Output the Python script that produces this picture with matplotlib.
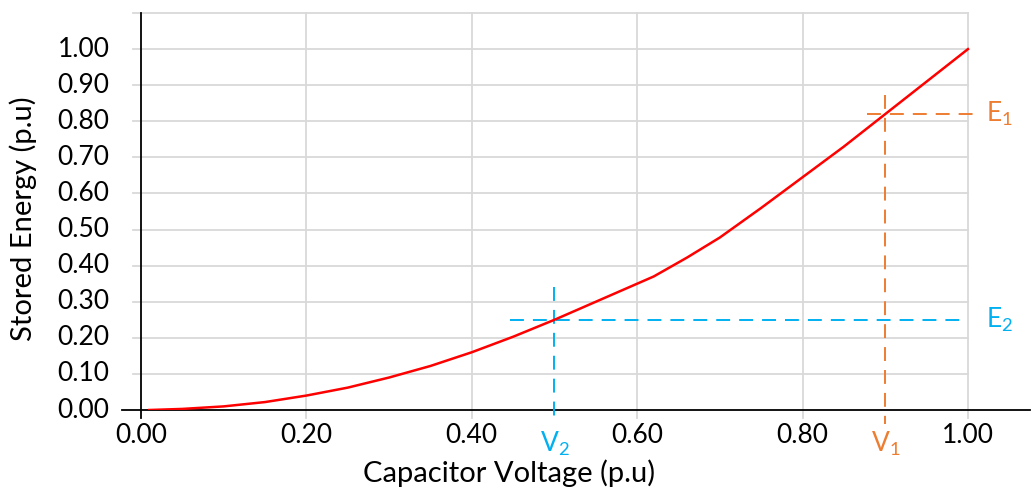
import matplotlib
matplotlib.use("Agg")
import matplotlib.pyplot as plt

plt.rcParams['font.family'] = ['Lato', 'DejaVu Sans']
plt.rcParams['mathtext.fontset'] = 'custom'
plt.rcParams['mathtext.rm'] = 'Lato'
plt.rcParams['mathtext.it'] = 'Lato'
plt.rcParams['lines.scale_dashes'] = False

# Data
voltage = [0.01, 0.05, 0.10, 0.15, 0.20, 0.25, 0.30, 0.35, 0.40, 0.45, 0.50,
           0.55, 0.60, 0.62, 0.66, 0.70, 0.75, 0.80, 0.85, 0.90, 0.95, 1.00]
energy = [0.0, 0.003, 0.010, 0.022, 0.040, 0.062, 0.090, 0.122, 0.160, 0.203, 0.250,
          0.300, 0.350, 0.370, 0.422, 0.478, 0.560, 0.645, 0.730, 0.820, 0.910, 1.000]
x_ticks = [0.0, 0.2, 0.4, 0.6, 0.8, 1.0]
y_ticks = [0.0, 0.1, 0.2, 0.3, 0.4, 0.5, 0.6, 0.7, 0.8, 0.9, 1.0]
V1, E1 = 0.90, 0.82
V2, E2 = 0.50, 0.25

RED = '#FF0000'
BLUE = '#00B0F0'
ORANGE = '#ED7D31'
GRID = '#D9D9D9'

fig = plt.figure(figsize=(10.36, 4.88), dpi=100)
ax = fig.add_axes([141/1036, 78/488, 889/1036, 397/488])
ax.set_xlim(0, 1.075)
ax.set_ylim(0, 1.1)
for s in ax.spines.values():
    s.set_visible(False)
ax.set_xticks([])
ax.set_yticks([])

# gridlines
for y in y_ticks[1:] + [1.1]:
    ax.plot([-0.01, 1.0], [y, y], color=GRID, lw=1.3, clip_on=False, zorder=1)
for x in x_ticks[1:]:
    ax.plot([x, x], [-0.022, 1.1], color=GRID, lw=1.3, clip_on=False, zorder=1)
# axes lines
ax.plot([0, 0], [-0.022, 1.1], color='black', lw=1.3, clip_on=False, zorder=2)
ax.plot([-0.023, 1.075], [0, 0], color='black', lw=1.3, clip_on=False, zorder=2)

# tick labels
for y in y_ticks:
    ax.text(-0.038, y, f'{y:.2f}', ha='right', va='center', fontsize=19)
for x in x_ticks:
    ax.text(x, -0.036, f'{x:.2f}', ha='center', va='top', fontsize=19)

ax.text(-0.143, 0.53, 'Stored Energy (p.u)', rotation=90, ha='center', va='center',
        fontsize=21, clip_on=False)
ax.text(0.445, -0.176, 'Capacitor Voltage (p.u)', ha='center', va='center', fontsize=21)

# curve
ax.plot(voltage, energy, color=RED, lw=1.8, zorder=4)

# markers
dash = (0, (10, 6.5))
ax.plot([0.446, 1.0], [E2, E2], color=BLUE, lw=1.4, ls=dash, zorder=3, clip_on=False)
ax.plot([V2, V2], [0.34, -0.02], color=BLUE, lw=1.4, ls=dash, zorder=3, clip_on=False)
ax.plot([0.878, 1.007], [E1, E1], color=ORANGE, lw=1.4, ls=dash, zorder=3, clip_on=False)
ax.plot([V1, V1], [0.873, -0.04], color=ORANGE, lw=1.4, ls=dash, zorder=3, clip_on=False)

ax.text(1.022, E1, r'$\mathregular{E_1}$', color=ORANGE, fontsize=19, ha='left', va='center')
ax.text(1.022, E2, r'$\mathregular{E_2}$', color=BLUE, fontsize=19, ha='left', va='center')
ax.text(V2, -0.095, r'$\mathregular{V_2}$', color=BLUE, fontsize=19, ha='center', va='center')
ax.text(V1, -0.095, r'$\mathregular{V_1}$', color=ORANGE, fontsize=19, ha='center', va='center')

fig.savefig('out.png', dpi=100)
